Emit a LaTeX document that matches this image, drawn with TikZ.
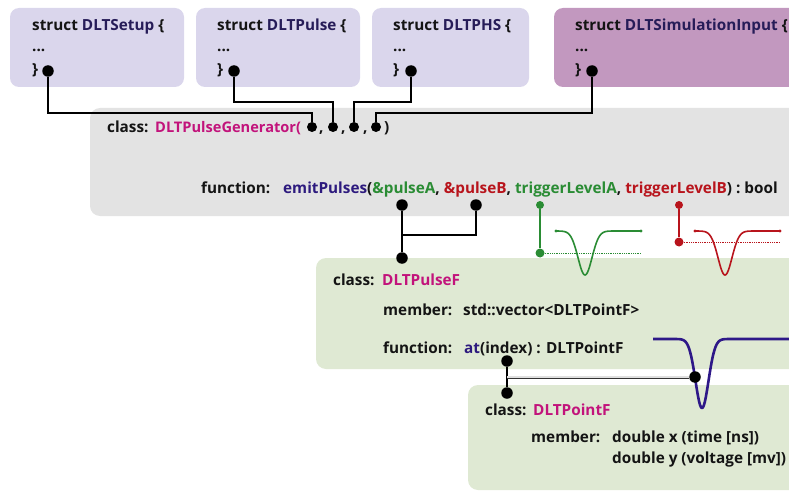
\documentclass[tikz,border=0pt]{standalone}
\usepackage{fontspec}
\setmainfont{Open Sans}
\definecolor{lav}{HTML}{DAD6EC}
\definecolor{purp}{HTML}{C298BF}
\definecolor{gbox}{HTML}{E3E3E3}
\definecolor{grbox}{HTML}{DFE9D3}
\definecolor{navy}{HTML}{261C58}
\definecolor{mag}{HTML}{C2137B}
\definecolor{emit}{HTML}{2D1A7E}
\definecolor{grn}{HTML}{2A8C34}
\definecolor{rd}{HTML}{B8141C}
\definecolor{pblue}{HTML}{2E1888}
\definecolor{dtxt}{HTML}{141414}
\begin{document}
\begin{tikzpicture}[x=1pt,y=-1pt,
  txt/.style={anchor=base west, inner sep=0pt, text=dtxt, font=\fontsize{15.3}{18}\selectfont\bfseries},
  dot/.style={circle, fill=black, inner sep=0pt, minimum size=11.5pt},
  sdot/.style={circle, fill=black, inner sep=0pt, minimum size=10pt},
  conn/.style={line width=1.8pt},
  pulse/.style={line width=1.6pt, line join=round},
]
\useasboundingbox (0,0) rectangle (789,492);
\clip (0,0) rectangle (789,492);

% boxes
\fill[lav, rounded corners=9pt] (10,8) rectangle (184,87);
\fill[lav, rounded corners=9pt] (196,8) rectangle (360,87);
\fill[lav, rounded corners=9pt] (372,8) rectangle (529,87);
\fill[purp, rounded corners=9pt] (554,8) rectangle (820,87);
\fill[gbox, rounded corners=10pt] (90,108) rectangle (820,216);
\fill[grbox, rounded corners=10pt] (316,258) rectangle (820,369);
\fill[grbox, rounded corners=10pt] (468,385) rectangle (820,490);

% struct texts
\node[txt] (t1) at (32,31) {struct \textcolor{navy}{DLTSetup} \{};
\node[txt] (t1b) at (32,52) {...};
\node[txt] (t1c) at (32,75) {\}};
\node[txt] (t2) at (217,31) {struct \textcolor{navy}{DLTPulse} \{};
\node[txt] (t2b) at (217,52) {...};
\node[txt] (t2c) at (217,75) {\}};
\node[txt] (t3) at (393,31) {struct \textcolor{navy}{DLTPHS} \{};
\node[txt] (t3b) at (393,52) {...};
\node[txt] (t3c) at (393,75) {\}};
\node[txt] (t4) at (575,31) {struct \textcolor{navy}{DLTSimulationInput} \{};
\node[txt] (t4b) at (575,52) {...};
\node[txt] (t4c) at (575,75) {\}};

\node[dot] (s1) at (48,71) {};
\node[dot] (s2) at (234,71) {};
\node[dot] (s3) at (411,71) {};
\node[dot] (s4) at (592,71) {};

% constructor line
\node[txt] (ck) at (107,132) {class:};
\node[txt, text=mag, font=\fontsize{14.6}{18}\selectfont\bfseries] (cn) at (155,132) {DLTPulseGenerator(};
\node[sdot] (c1) at (312,127) {};
\node[txt] (cm1) at (319,132) {,};
\node[sdot] (c2) at (333,127) {};
\node[txt] (cm2) at (341,132) {,};
\node[sdot] (c3) at (354,127) {};
\node[txt] (cm3) at (363,132) {,};
\node[sdot] (c4) at (376,127) {};
\node[txt] (cp) at (384,132) {)};

\coordinate (j1) at (48,113);
\coordinate (j2) at (234,102);
\coordinate (j3) at (411,102);
\coordinate (j4) at (592,113);
\draw[conn] (s1) -- (j1) -| (c1);
\draw[conn] (s2) -- (j2) -| (c2);
\draw[conn] (s3) -- (j3) -| (c3);
\draw[conn] (s4) -- (j4) -| (c4);

% function line
\node[txt] (fk) at (201,193) {function:};
\node[txt] (fn) at (283,193) {\textcolor{emit}{emitPulses}(\textcolor{grn}{\&pulseA}, \textcolor{rd}{\&pulseB}, \textcolor{grn}{triggerLevelA}, \textcolor{rd}{triggerLevelB}) : bool};

\node[dot] (pa) at (402,205) {};
\node[dot] (pb) at (476,205) {};
\node[dot] (pf) at (402,258) {};
\coordinate (jb) at (476,235);
\draw[conn] (pa) -- (pf);
\draw[conn] (pb) -- (jb) -| (pf);

% trigger A
\node[circle, fill=grn, inner sep=0pt, minimum size=8pt] (ga) at (540,205) {};
\node[circle, fill=grn, inner sep=0pt, minimum size=9pt] (gb) at (540,253) {};
\coordinate (ge) at (641,253);
\draw[grn, line width=1.8pt] (ga) -- (gb);
\draw[grn, line width=0.8pt, densely dotted] (gb) -- (ge);
\draw[grn, pulse] plot[domain=556:641, samples=120] (\x, {231+44*exp(-((\x-585)/7)^2/2)});
\fill[grn] (556,231) circle (1.6) (641,231) circle (1.6);

% trigger B
\node[circle, fill=rd, inner sep=0pt, minimum size=8pt] (ra) at (679,205) {};
\node[circle, fill=rd, inner sep=0pt, minimum size=9pt] (rb) at (679,242) {};
\coordinate (re) at (780,242);
\draw[rd, line width=1.8pt] (ra) -- (rb);
\draw[rd, line width=0.8pt, densely dotted] (rb) -- (re);
\draw[rd, pulse] plot[domain=695:780, samples=120] (\x, {231+44*exp(-((\x-725)/7)^2/2)});
\fill[rd] (695,231) circle (1.6) (780,231) circle (1.6);

% DLTPulseF
\node[txt] (fk2) at (333,285) {class:};
\node[txt, text=mag] (fn2) at (382,285) {DLTPulseF};
\node[txt] (mk2) at (383,315) {member:};
\node[txt] (mv2) at (463,315) {std::vector<DLTPointF>};
\node[txt] (uk2) at (383,353) {function:};
\node[txt] (uv2) at (464,353) {\textcolor{emit}{at}(index) : DLTPointF};

% blue pulse
\draw[pblue, line width=2.6pt, line join=round] plot[domain=653:800, samples=200] (\x, {339+69*exp(-((\x-702)/6.5)^2/2)});

\node[dot] (ai) at (507,361) {};
\node[dot] (pp) at (695,377) {};
\node[dot] (pt) at (507,393) {};
\coordinate (jc) at (507,377);
\draw[conn] (ai) -- (pt);
\draw[line width=0.9pt, draw=black!80, double=white!75!gray, double distance=1.2pt] (jc) -- (pp);

% DLTPointF
\node[txt] (pk3) at (485,415) {class:};
\node[txt, text=mag] (pn3) at (533,415) {DLTPointF};
\node[txt] (mk3) at (531,442) {member:};
\node[txt] (mx3) at (612,442) {double x (time [ns])};
\node[txt] (my3) at (612,463) {double y (voltage [mv])};
\end{tikzpicture}
\end{document}
